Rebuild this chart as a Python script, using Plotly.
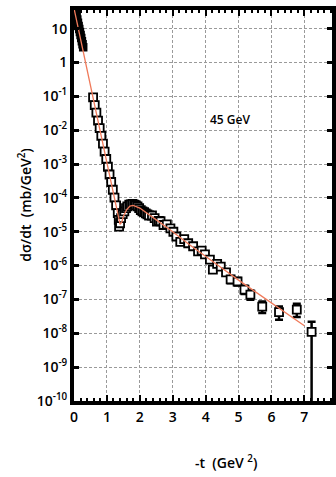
import plotly.graph_objects as go

# ---- data ----
t_small = [0.02, 0.04, 0.06, 0.08, 0.10, 0.12, 0.14, 0.16, 0.18, 0.20, 0.22, 0.24, 0.26, 0.28]
ds_small = [42.7, 34.7, 28.2, 22.9, 18.6, 14.8, 12.0, 9.77, 7.94, 6.46, 5.25, 4.27, 3.47, 2.82]

t_main = [0.58, 0.63, 0.68, 0.73, 0.78, 0.83, 0.88, 0.93, 0.98, 1.03, 1.08, 1.13, 1.18, 1.23,
          1.28, 1.33, 1.36, 1.37, 1.40, 1.43, 1.48, 1.53, 1.58, 1.62, 1.68, 1.73, 1.78, 1.83,
          1.88, 1.93, 1.98, 2.03, 2.08, 2.13, 2.18, 2.23, 2.28, 2.37, 2.45, 2.52, 2.58, 2.63,
          2.72, 2.82, 2.93, 3.02, 3.11, 3.23, 3.35, 3.47, 3.62, 3.77, 3.88, 3.98]
ds_main = [9.33e-2, 5.50e-2, 3.31e-2, 1.91e-2, 1.15e-2, 6.76e-3, 3.98e-3, 2.34e-3, 1.41e-3,
           8.32e-4, 4.90e-4, 2.95e-4, 1.74e-4, 1.02e-4, 6.03e-5, 3.55e-5, 2.24e-5, 1.41e-5,
           1.78e-5, 2.51e-5, 3.31e-5, 3.98e-5, 5.01e-5, 5.62e-5, 6.31e-5, 6.46e-5, 6.61e-5,
           6.31e-5, 6.03e-5, 5.62e-5, 5.01e-5, 4.37e-5, 3.98e-5, 3.80e-5, 3.47e-5, 3.24e-5,
           3.02e-5, 3.02e-5, 2.51e-5, 2.00e-5, 2.09e-5, 2.04e-5, 1.58e-5, 1.66e-5, 1.26e-5,
           1.00e-5, 7.24e-6, 5.01e-6, 6.03e-6, 4.57e-6, 3.72e-6, 2.63e-6, 2.75e-6, 2.14e-6]

t_tail = [4.13, 4.22, 4.35, 4.46, 4.62, 4.76, 4.97, 5.18, 5.36, 5.72, 6.23, 6.77, 7.22]
ds_tail = [1.51e-6, 7.59e-7, 1.12e-6, 9.33e-7, 6.31e-7, 3.89e-7, 3.39e-7, 1.95e-7, 1.38e-7,
           6.17e-8, 4.20e-8, 5.01e-8, 1.10e-8]
err_up_tail = [3.0e-7, 1.5e-7, 2.2e-7, 1.9e-7, 1.3e-7, 1.0e-7, 0.9e-7, 6.0e-8, 4.5e-8,
               2.5e-8, 2.0e-8, 2.4e-8, 1.1e-8]
err_dn_tail = [2.5e-7, 1.2e-7, 1.8e-7, 1.6e-7, 1.1e-7, 0.9e-7, 0.8e-7, 5.0e-8, 4.0e-8,
               2.2e-8, 1.7e-8, 2.0e-8, 1.0999e-8]

t_fit = [0.0, 0.1, 0.2, 0.3, 0.4, 0.5, 0.6, 0.7, 0.8, 0.9, 1.0, 1.1, 1.2, 1.3, 1.35, 1.4,
         1.45, 1.5, 1.6, 1.7, 1.8, 1.9, 2.0, 2.5, 3.0, 3.5, 4.0, 4.5, 5.0, 5.5, 6.0, 6.5, 7.0]
ds_fit = [39.8, 14.1, 4.90, 1.74, 0.603, 0.209, 7.41e-2, 2.57e-2, 9.12e-3, 3.16e-3, 1.12e-3,
          3.89e-4, 1.38e-4, 4.79e-5, 2.63e-5, 1.66e-5, 1.91e-5, 2.82e-5, 4.47e-5, 5.75e-5,
          6.03e-5, 5.62e-5, 5.01e-5, 2.24e-5, 1.00e-5, 4.17e-6, 1.82e-6, 8.32e-7, 3.72e-7,
          1.70e-7, 7.94e-8, 3.55e-8, 1.66e-8]

y_tickvals = [10, 1, 1e-1, 1e-2, 1e-3, 1e-4, 1e-5, 1e-6, 1e-7, 1e-8, 1e-9, 1e-10]
y_ticktext = ["10", "1"] + ["10<sup>-%d</sup>" % k for k in range(1, 11)]
x_tickvals = [0, 1, 2, 3, 4, 5, 6, 7]

FONT = "Open Sans"
marker = dict(symbol="square", size=8, color="white", line=dict(color="black", width=1.8))

fig = go.Figure()
fig.add_trace(go.Scatter(x=t_small, y=ds_small, mode="markers",
                         marker=dict(symbol="square", size=7, color="black",
                                     line=dict(color="black", width=1.5))))
fig.add_trace(go.Scatter(x=t_main, y=ds_main, mode="markers", marker=marker))
fig.add_trace(go.Scatter(
    x=t_tail, y=ds_tail, mode="markers", marker=marker,
    error_y=dict(type="data", symmetric=False, array=err_up_tail, arrayminus=err_dn_tail,
                 color="black", thickness=2.5, width=4)))
fig.add_trace(go.Scatter(x=t_fit, y=ds_fit, mode="lines",
                         line=dict(color="#f07a5a", width=1.3)))

W, H = 336, 477
pl, pr, pt, pb = 74, 0, 10, 76
pw, ph = W - pl - pr, H - pt - pb


def px2paper(x, y):
    return (x - pl) / pw, 1 - (y - pt) / ph


fig.update_layout(
    width=W, height=H,
    margin=dict(l=pl, r=pr, t=pt, b=pb),
    paper_bgcolor="white", plot_bgcolor="white",
    showlegend=False,
    font=dict(family=FONT, color="black", size=13),
)

ax, ay = px2paper(232, 120)
fig.add_annotation(text="45 GeV", x=ax, y=ay, xref="paper", yref="paper", showarrow=False,
                   xanchor="center", yanchor="middle",
                   font=dict(size=12, family=FONT, weight=600))
bx, by = px2paper(228, 462)
fig.add_annotation(text="-t  (GeV <sup>2</sup>)", x=bx, y=by, xref="paper", yref="paper",
                   showarrow=False, xanchor="center", yanchor="middle",
                   font=dict(size=14, family=FONT, weight=600))
cx, cy = px2paper(24, 205)
fig.add_annotation(text="dσ/dt  (mb/GeV<sup>2</sup>)", x=cx, y=cy, xref="paper", yref="paper",
                   showarrow=False, textangle=-90, xanchor="center", yanchor="middle",
                   font=dict(size=14, family=FONT, weight=600))

fig.update_xaxes(
    range=[0, 7.84], tickvals=x_tickvals, ticks="inside", ticklen=6, tickwidth=2,
    tickcolor="black", showline=True, linewidth=4, linecolor="black", mirror="ticks",
    showgrid=True, gridcolor="#9a9a9a", gridwidth=1, griddash="3px,2px",
    zeroline=False, tickfont=dict(size=14, family=FONT, weight=600),
    minor=dict(dtick=0.2, ticks="inside", ticklen=3, tickwidth=1.5, tickcolor="black",
               showgrid=False),
)
fig.update_yaxes(
    type="log", range=[-10, 1.55], tickvals=y_tickvals, ticktext=y_ticktext,
    ticks="inside", ticklen=5, tickwidth=3, tickcolor="black",
    showline=True, linewidth=4, linecolor="black", mirror="ticks",
    showgrid=True, gridcolor="#9a9a9a", gridwidth=1, griddash="3px,2px",
    zeroline=False, tickfont=dict(size=14, family=FONT, weight=600),
)

fig.write_html("out.html")
